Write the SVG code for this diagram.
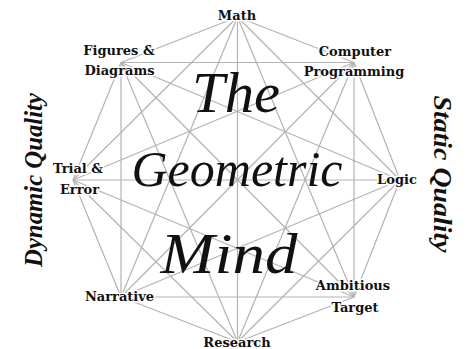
<svg xmlns="http://www.w3.org/2000/svg" width="473" height="349" viewBox="0 0 473 349">
<style>
.bg{fill:#ffffff}
.c line{stroke:#b3b3b3;stroke-width:1.2}
.lbl{font-family:"DejaVu Serif","Liberation Serif",serif;font-weight:bold;font-size:13px;fill:#111;text-anchor:middle;stroke:#ffffff;stroke-width:3;paint-order:stroke;stroke-linejoin:round}
.title{font-family:"Liberation Serif",serif;font-style:italic;fill:#111;text-anchor:middle}
.side{font-family:"Liberation Serif",serif;font-style:italic;font-weight:bold;font-size:26px;fill:#111;text-anchor:middle}
</style>
<rect class="bg" x="0" y="0" width="473" height="349"/>
<g id="connectors" class="c">
<line x1="237.5" y1="17" x2="354" y2="62.5"/>
<line x1="237.5" y1="17" x2="400" y2="180"/>
<line x1="237.5" y1="17" x2="354" y2="297"/>
<line x1="237.5" y1="17" x2="237.5" y2="342"/>
<line x1="237.5" y1="17" x2="121" y2="297"/>
<line x1="237.5" y1="17" x2="73" y2="180"/>
<line x1="237.5" y1="17" x2="121" y2="62.5"/>
<line x1="354" y1="62.5" x2="400" y2="180"/>
<line x1="354" y1="62.5" x2="354" y2="297"/>
<line x1="354" y1="62.5" x2="237.5" y2="342"/>
<line x1="354" y1="62.5" x2="121" y2="297"/>
<line x1="354" y1="62.5" x2="73" y2="180"/>
<line x1="354" y1="62.5" x2="121" y2="62.5"/>
<line x1="400" y1="180" x2="354" y2="297"/>
<line x1="400" y1="180" x2="237.5" y2="342"/>
<line x1="400" y1="180" x2="121" y2="297"/>
<line x1="400" y1="180" x2="73" y2="180"/>
<line x1="400" y1="180" x2="121" y2="62.5"/>
<line x1="354" y1="297" x2="237.5" y2="342"/>
<line x1="354" y1="297" x2="121" y2="297"/>
<line x1="354" y1="297" x2="73" y2="180"/>
<line x1="354" y1="297" x2="121" y2="62.5"/>
<line x1="237.5" y1="342" x2="121" y2="297"/>
<line x1="237.5" y1="342" x2="73" y2="180"/>
<line x1="237.5" y1="342" x2="121" y2="62.5"/>
<line x1="121" y1="297" x2="73" y2="180"/>
<line x1="121" y1="297" x2="121" y2="62.5"/>
<line x1="73" y1="180" x2="121" y2="62.5"/>
</g>
<g id="title">
<text class="title" x="236" y="112" font-size="56" textLength="88" lengthAdjust="spacingAndGlyphs">The</text>
<text class="title" x="237" y="186" font-size="50" textLength="211" lengthAdjust="spacingAndGlyphs">Geometric</text>
<text class="title" x="229" y="273" font-size="56" textLength="137" lengthAdjust="spacingAndGlyphs">Mind</text>
</g>
<g id="dynamic-quality"><text class="side" transform="translate(42,180) rotate(-90)" textLength="174" lengthAdjust="spacingAndGlyphs">Dynamic Quality</text></g>
<g id="static-quality"><text class="side" transform="translate(434,174) rotate(90)" textLength="157" lengthAdjust="spacingAndGlyphs">Static Quality</text></g>
<g id="math"><text class="lbl" x="237" y="20">Math</text></g>
<g id="figures-diagrams"><text class="lbl" x="119" y="55">Figures &amp;</text><text class="lbl" x="119.5" y="75">Diagrams</text></g>
<g id="computer-programming"><text class="lbl" x="355" y="56">Computer</text><text class="lbl" x="354" y="76">Programming</text></g>
<g id="logic"><text class="lbl" x="397" y="184">Logic</text></g>
<g id="ambitious-target"><text class="lbl" x="353" y="290">Ambitious</text><text class="lbl" x="355" y="312">Target</text></g>
<g id="research"><text class="lbl" x="237" y="347">Research</text></g>
<g id="narrative"><text class="lbl" x="119.5" y="301">Narrative</text></g>
<g id="trial-error"><text class="lbl" x="78" y="173">Trial &amp;</text><text class="lbl" x="79.5" y="194">Error</text></g>
</svg>
